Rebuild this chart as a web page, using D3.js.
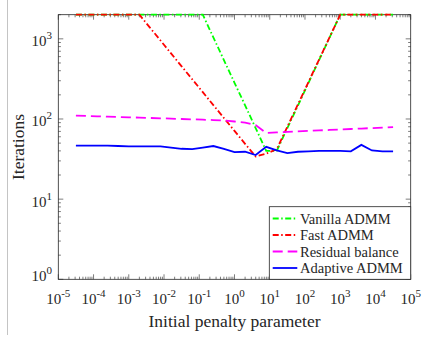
<!DOCTYPE html>
<html><head><meta charset="utf-8">
<script src="https://cdn.jsdelivr.net/npm/d3@7"></script>
<style>
html,body{margin:0;padding:0;background:#fff;}
</style></head>
<body>
<svg id="c" width="423" height="345" font-family="Liberation Serif"></svg>
<script>
// Data
const penalty = [3.16e-5, 6.31e-5, 1.26e-4, 2.51e-4, 5.01e-4, 1.0e-3, 2.0e-3, 3.98e-3, 7.94e-3, 1.58e-2,
  3.16e-2, 6.31e-2, 0.126, 0.251, 0.501, 1.0, 2.0, 3.98, 7.94, 15.8,
  31.6, 63.1, 126, 251, 501, 1000, 2000, 3981, 7943, 15849, 31623];
const vanilla = [2000,2000,2000,2000,2000,2000,2000,2000,2000,2000,2000,2000,2000,
  1042,543,283,148,77,40,40,77,147,283,543,1042,2000,2000,2000,2000,2000,2000];
const fast = [2000,2000,2000,2000,2000,2000,2000,1380,953,658,454,313,216,149,103,71,49,34,37,42,
  80,152,290,552,1051,2000,2000,2000,2000,2000,2000];
const residual = [110,109,108,107,106,105,104,103,102,101,100,99,98,97,96,93,90,84,67,68,
  69,70,71,72,73,74,75,76,77,78,79];
const adaptive = [46.5,46.5,46.5,46.5,46,45.5,45.5,45.5,45.5,44,42.5,42,44,46,42.5,38.5,39,35.5,45,40.5,
  37.5,39,39.5,40,40,40,39.5,47.5,40.5,39.5,39.5];
const seriesNames = ["Vanilla ADMM","Fast ADMM","Residual balance","Adaptive ADMM"];
const xTickExps = [-5,-4,-3,-2,-1,0,1,2,3,4,5];
const yTickExps = [0,1,2,3];
const xLabel = "Initial penalty parameter";
const yLabel = "Iterations";

const FONT = "Liberation Serif";
const svg = d3.select("#c");
const L = 58.3, R = 410.7, T = 14.7, B = 279.3;
const x = d3.scaleLog().domain([1e-5, 1e5]).range([L, R]);
const y = d3.scaleLog().domain([1, 2000]).range([B, T]);

// page edge line
svg.append("line").attr("x1",7.5).attr("x2",7.5).attr("y1",0).attr("y2",335)
  .attr("stroke","#c4c4c4").attr("stroke-width",1);

const axisColor = "#262626";
const g = svg.append("g");

const xMinor = [], yMinor = [];
for (let e = -5; e < 5; e++) for (let m = 2; m <= 9; m++) xMinor.push(m * Math.pow(10, e));
for (let e = 0; e < 4; e++) for (let m = 2; m <= 9; m++) { const v = m * Math.pow(10, e); if (v <= 2000) yMinor.push(v); }
const maj = 5, mn = 2.6;
function tickX(v, len){
  g.append("line").attr("x1",x(v)).attr("x2",x(v)).attr("y1",B).attr("y2",B-len).attr("stroke",axisColor).attr("stroke-width",0.6);
  g.append("line").attr("x1",x(v)).attr("x2",x(v)).attr("y1",T).attr("y2",T+len).attr("stroke",axisColor).attr("stroke-width",0.6);
}
function tickY(v, len){
  g.append("line").attr("y1",y(v)).attr("y2",y(v)).attr("x1",L).attr("x2",L+len).attr("stroke",axisColor).attr("stroke-width",0.6);
  g.append("line").attr("y1",y(v)).attr("y2",y(v)).attr("x1",R).attr("x2",R-len).attr("stroke",axisColor).attr("stroke-width",0.6);
}
xMinor.forEach(v => tickX(v, mn));
xTickExps.forEach(e => tickX(Math.pow(10,e), maj));
yMinor.forEach(v => tickY(v, mn));
yTickExps.forEach(e => tickY(Math.pow(10,e), maj));

g.append("rect").attr("x",L).attr("y",T).attr("width",R-L).attr("height",B-T)
  .attr("fill","none").attr("stroke",axisColor).attr("stroke-width",0.8);

function txt(sel){ return sel.attr("font-family", FONT).attr("fill", "#262626"); }

// x tick labels
xTickExps.forEach(e => {
  const t = txt(svg.append("text")).attr("x", x(Math.pow(10,e))).attr("y", 304)
    .attr("text-anchor","middle").attr("font-size", 15);
  t.append("tspan").text("10");
  t.append("tspan").attr("dy",-7).attr("font-size", 11).text(String(e));
});
// y tick labels
yTickExps.forEach(e => {
  const yy = y(Math.pow(10,e)) + (e === 0 ? 2 : 7.5);
  const t = txt(svg.append("text")).attr("x", 52).attr("y", yy)
    .attr("text-anchor","end").attr("font-size", 15);
  t.append("tspan").text("10");
  t.append("tspan").attr("dy",-7).attr("font-size", 11).text(String(e));
});

// axis labels
txt(svg.append("text")).attr("x",(L+R)/2).attr("y",327).attr("text-anchor","middle")
  .attr("font-size", 17.5).text(xLabel);
txt(svg.append("text")).attr("transform",`translate(24,${(T+B)/2}) rotate(-90)`).attr("text-anchor","middle")
  .attr("font-size", 17.5).text(yLabel);

// series
const series = [
  {name: seriesNames[0], vals: vanilla, color:"#00ff00", dash:"6,2.5,1.5,2.5", w:1.8},
  {name: seriesNames[1], vals: fast, color:"#ff0000", dash:"6,2.5,1.5,2.5", w:1.8},
  {name: seriesNames[2], vals: residual, color:"#ff00ff", dash:"10,5", w:1.8},
  {name: seriesNames[3], vals: adaptive, color:"#0000ff", dash:null, w:1.8}
];
const line = d3.line().x(d => x(d[0])).y(d => y(d[1]));
series.forEach(s => {
  svg.append("path").datum(penalty.map((p,i) => [p, s.vals[i]]))
    .attr("d", line).attr("fill","none").attr("stroke", s.color)
    .attr("stroke-width", s.w).attr("stroke-dasharray", s.dash);
});

// legend
const lg = svg.append("g");
lg.append("rect").attr("x",269.3).attr("y",206.7).attr("width",R-269.3).attr("height",B-206.7)
  .attr("fill","#fff").attr("stroke",axisColor).attr("stroke-width",0.8);
const legY = [218.5, 235, 251.5, 268];
series.forEach((s,i) => {
  lg.append("line").attr("x1",272.7).attr("x2",297.3).attr("y1",legY[i]).attr("y2",legY[i])
    .attr("stroke",s.color).attr("stroke-width",s.w).attr("stroke-dasharray", s.dash);
  txt(lg.append("text")).attr("x",300).attr("y",legY[i]+5).attr("font-size", 14.5).text(s.name);
});
</script>
</body></html>
